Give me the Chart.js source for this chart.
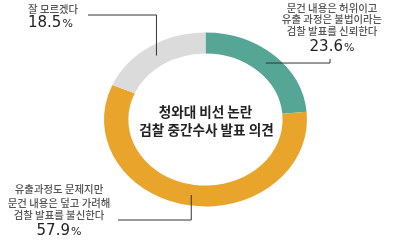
<!DOCTYPE html>
<html>
<head>
<meta charset="utf-8">
<script src="https://cdn.jsdelivr.net/npm/chart.js@4"></script>
<style>
  html, body { margin: 0; padding: 0; background: #fff; }
  #wrap { width: 398px; height: 243px; }
</style>
</head>
<body>
<div id="wrap"><canvas id="myChart" width="398" height="243"></canvas></div>
<script>
// data
const categories = [
  ['문건 내용은 허위이고', '유출 과정은 불법이라는', '검찰 발표를 신뢰한다'],
  ['유출과정도 문제지만', '문건 내용은 덮고 가려해', '검찰 발표를 불신한다'],
  ['잘 모르겠다']
];
const values = [23.6, 57.9, 18.5];
const chartTitle = ['청와대 비선 논란', '검찰 중간수사 발표 의견'];

// styles
const sliceColors = ['#55a695', '#e8a42b', '#dbdbdb'];
const SY = 0.857; // the ring is a little squashed vertically

// where each callout goes (elbow of the leader line and text block)
const callouts = [
  { turn: 'h', elbowX: 330, endY: 59, textX: 332, align: 'center', lineY: [8, 19.5, 31], pctY: 47 },
  { turn: 'v', elbowY: 220, endX: 118, textX: 59, align: 'center', lineY: [189, 203, 215.5], pctY: 231 },
  { turn: 'v', elbowY: 15, endX: 88, textX: 28, align: 'left', lineY: [9.5], pctY: 23.5 }
];

const squash = {
  id: 'squash',
  beforeDatasetsDraw(chart) {
    const a = chart.getDatasetMeta(0).data[0];
    const ctx = chart.ctx;
    ctx.save();
    ctx.translate(a.x, a.y);
    ctx.scale(1, SY);
    ctx.translate(-a.x, -a.y);
  },
  afterDatasetsDraw(chart) {
    chart.ctx.restore();
  }
};

function drawPct(ctx, v, x, y, align) {
  const num = v.toFixed(1);
  ctx.font = '15px "DejaVu Sans"';
  const w1 = ctx.measureText(num).width;
  ctx.font = '11px "DejaVu Sans"';
  const w2 = ctx.measureText('%').width;
  let sx = align === 'center' ? x - (w1 + w2 + 1) / 2 : x;
  ctx.textAlign = 'left';
  ctx.fillStyle = '#222';
  ctx.font = '15px "DejaVu Sans"';
  ctx.fillText(num, sx, y);
  ctx.font = '11px "DejaVu Sans"';
  ctx.fillText('%', sx + w1 + 1, y + 1);
}

const callout = {
  id: 'callout',
  afterDraw(chart) {
    const ctx = chart.ctx;
    const arcs = chart.getDatasetMeta(0).data;
    ctx.save();
    ctx.textBaseline = 'middle';
    arcs.forEach((arc, i) => {
      const p = arc.getProps(['x', 'y', 'startAngle', 'endAngle', 'innerRadius', 'outerRadius']);
      const ang = (p.startAngle + p.endAngle) / 2;
      const r = (p.innerRadius + p.outerRadius) / 2;
      const px = p.x + Math.cos(ang) * r;
      const py = p.y + Math.sin(ang) * r * SY;
      const c = callouts[i];
      ctx.strokeStyle = '#333';
      ctx.lineWidth = 1;
      ctx.beginPath();
      ctx.moveTo(px, py);
      if (c.turn === 'h') {
        ctx.lineTo(c.elbowX, py);
        ctx.lineTo(c.elbowX, c.endY);
      } else {
        ctx.lineTo(px, c.elbowY);
        ctx.lineTo(c.endX, c.elbowY);
      }
      ctx.stroke();

      ctx.fillStyle = '#555';
      ctx.font = '500 10.4px "Noto Sans CJK KR"';
      ctx.textAlign = c.align;
      categories[i].forEach((line, j) => ctx.fillText(line, c.textX, c.lineY[j]));
      drawPct(ctx, values[i], c.textX, c.pctY, c.align);
    });

    // centre title
    const a = arcs[0];
    ctx.fillStyle = '#222';
    ctx.textAlign = 'center';
    ctx.font = 'bold 13.6px "Noto Sans CJK KR"';
    ctx.fillText(chartTitle[0], a.x, a.y - 8);
    ctx.fillText(chartTitle[1], a.x + 1, a.y + 10);
    ctx.restore();
  }
};

new Chart(document.getElementById('myChart'), {
  type: 'doughnut',
  data: {
    labels: categories.map(c => c.join(' ')),
    datasets: [{
      data: values,
      backgroundColor: sliceColors,
      borderWidth: 0
    }]
  },
  options: {
    responsive: false,
    animation: false,
    devicePixelRatio: 1,
    cutout: '76%',
    layout: { padding: { left: 104, right: 91, top: 18, bottom: 22 } },
    plugins: { legend: { display: false }, tooltip: { enabled: false } }
  },
  plugins: [squash, callout]
});
</script>
</body>
</html>
